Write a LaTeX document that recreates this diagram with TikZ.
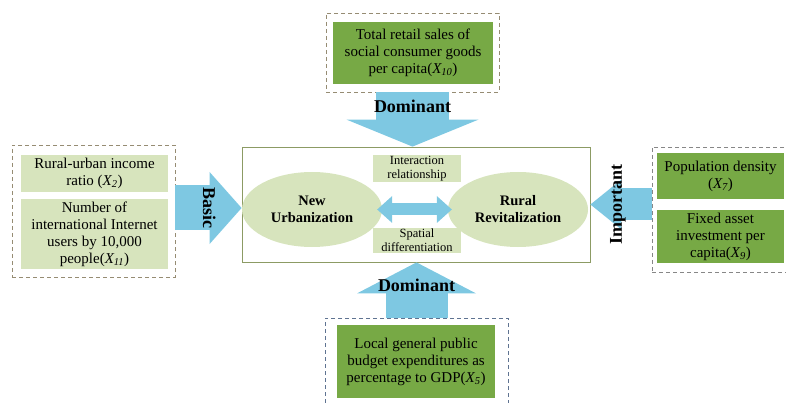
\documentclass[tikz,border=0pt]{standalone}
\usepackage{fontspec}
\setmainfont{Liberation Serif}
\usetikzlibrary{shapes.geometric,arrows.meta}

\definecolor{flowblue}{RGB}{126,200,226}
\definecolor{leafgreen}{RGB}{119,169,69}
\definecolor{palegreen}{RGB}{215,228,189}
\definecolor{framegreen}{RGB}{140,155,100}
\definecolor{dashbrown}{RGB}{150,140,115}
\definecolor{dashgray}{RGB}{135,135,135}
\definecolor{dashblue}{RGB}{95,115,145}

\tikzset{
  core/.style={draw=framegreen, line width=0.8pt, minimum width=348pt, minimum height=115pt},
  system/.style={ellipse, fill=palegreen, minimum width=140pt, minimum height=75pt, inner sep=0pt,
    align=center, font=\fontsize{14.5}{17}\selectfont\bfseries},
  tag/.style={fill=palegreen, minimum width=88pt, inner sep=0pt, align=center,
    font=\fontsize{12.5}{14}\selectfont},
  group/.style={draw=#1, dash pattern=on 4pt off 3pt, line width=0.8pt, inner sep=0pt},
  factor/.style={fill=#1, inner sep=0pt, align=center, font=\fontsize{15}{17}\selectfont},
  push/.style n args={3}{draw=flowblue, line width=#1,
    -{Triangle[width=#2, length=#3, line width=0pt]}},
  weight/.style={font=\fontsize{18}{20}\selectfont\bfseries}
}

\begin{document}
\begin{tikzpicture}[x=1pt,y=-1pt]
  \useasboundingbox (0,0) rectangle (786,403);
  \clip (0,0) rectangle (786,403);

  % coupling frame
  \node[core] (core) at (416,204.5) {};
  \node[system] (nu) at (312,209.5) {New\\Urbanization};
  \node[system] (rr) at (518,209.5) {Rural\\Revitalization};
  \node[tag, minimum height=27pt] (inter) at (417,168.5) {Interaction\\relationship};
  \node[tag, minimum height=25pt] (spat) at (417,240.5) {Spatial\\differentiation};
  \draw[draw=flowblue, line width=12pt, shorten <=-5pt, shorten >=-4pt,
    {Triangle[width=27pt, length=15pt, line width=0pt]}-{Triangle[width=27pt, length=15pt, line width=0pt]}]
    (nu.east) -- (rr.west);

  % factor groups
  \node[group=dashbrown, minimum width=173pt, minimum height=79pt] (topgrp) at (412.5,52.5) {};
  \node[factor=leafgreen, minimum width=160pt, minimum height=62pt] (x10) at (413,53)
    {Total retail sales of\\social consumer goods\\per capita(\textit{X\textsubscript{10}})};

  \node[group=dashbrown, minimum width=163pt, minimum height=132pt] (leftgrp) at (93.5,211) {};
  \node[factor=palegreen, minimum width=147pt, minimum height=37pt] (x2) at (94.5,173.5)
    {Rural-urban income\\ratio (\textit{X\textsubscript{2}})};
  \node[factor=palegreen, minimum width=147pt, minimum height=70pt] (x11) at (94.5,234)
    {Number of\\international Internet\\users by 10,000\\people(\textit{X\textsubscript{11}})};

  \node[group=dashgray, minimum width=140pt, minimum height=125pt] (rightgrp) at (722,209.5) {};
  \node[factor=leafgreen, minimum width=127pt, minimum height=46pt] (x7) at (720.5,176)
    {Population density\\(\textit{X\textsubscript{7}})};
  \node[factor=leafgreen, minimum width=127pt, minimum height=53pt] (x9) at (720.5,236.5)
    {Fixed asset\\investment per\\capita(\textit{X\textsubscript{9}})};

  \node[group=dashblue, minimum width=183pt, minimum height=92pt] (botgrp) at (416.5,364) {};
  \node[factor=leafgreen, minimum width=158pt, minimum height=73pt] (x5) at (416,361.5)
    {Local general public\\budget expenditures as\\percentage to GDP(\textit{X\textsubscript{5}})};

  % influence arrows into the frame
  \draw[push={73pt}{132pt}{27pt}] (topgrp.south) -- (topgrp.south |- core.north)
    node[weight, text=black, pos=0.25] {Dominant};
  \draw[push={62pt}{119pt}{31pt}] (botgrp.north) -- (botgrp.north |- core.south)
    node[weight, text=black, pos=0.59] {Dominant};
  \draw[push={45pt}{72pt}{32pt}] ([yshift=3pt]leftgrp.east) -- ([yshift=3pt]leftgrp.east -| core.west)
    node[weight, text=black, rotate=-90, pos=0.51] {Basic};
  \draw[push={32pt}{50pt}{31pt}] ([yshift=5pt]rightgrp.west) -- ([yshift=5pt]rightgrp.west -| core.east)
    node[weight, text=black, rotate=90, pos=0.55] {Important};
\end{tikzpicture}
\end{document}
